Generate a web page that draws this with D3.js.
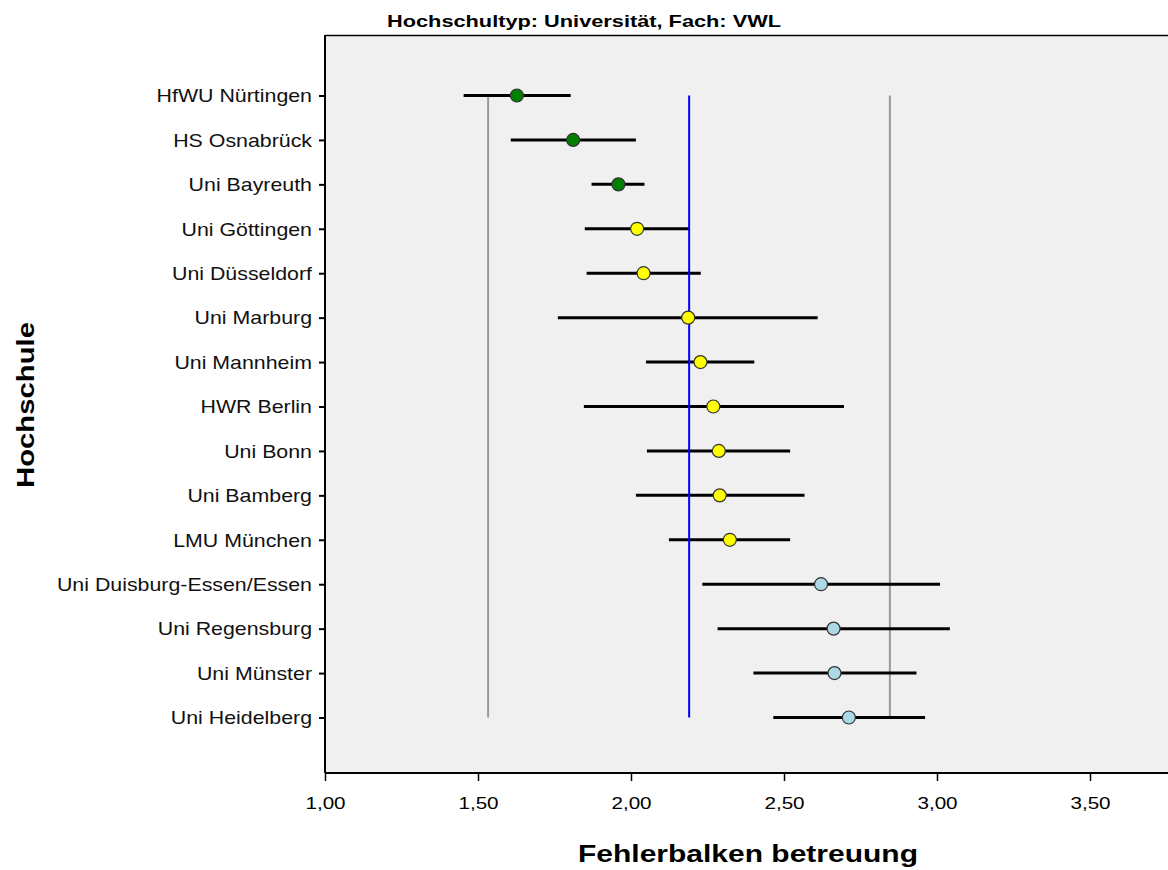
<!DOCTYPE html>
<html><head><meta charset="utf-8">
<script src="https://cdn.jsdelivr.net/npm/d3@7"></script>
<style>
html,body{margin:0;padding:0;background:#fff;}
svg text{font-family:"Liberation Sans",Arial,sans-serif;}
</style></head>
<body>
<svg id="chart" width="1168" height="870"></svg>
<script>
const categories = ["HfWU Nürtingen","HS Osnabrück","Uni Bayreuth","Uni Göttingen","Uni Düsseldorf","Uni Marburg","Uni Mannheim","HWR Berlin","Uni Bonn","Uni Bamberg","LMU München","Uni Duisburg-Essen/Essen","Uni Regensburg","Uni Münster","Uni Heidelberg"];
const means = [1.627,1.811,1.959,2.020,2.041,2.187,2.227,2.269,2.287,2.290,2.323,2.621,2.662,2.665,2.712];
const lower = [1.453,1.607,1.871,1.849,1.855,1.761,2.049,1.846,2.052,2.016,2.124,2.233,2.283,2.400,2.465];
const upper = [1.803,2.016,2.044,2.191,2.228,2.610,2.403,2.696,2.520,2.567,2.520,3.010,3.042,2.933,2.961];
const groups = ["low","low","low","mid","mid","mid","mid","mid","mid","mid","mid","high","high","high","high"];
const groupColors = {low:"#008000", mid:"#ffff00", high:"#add8e6"};
const refMean = 2.19;
const refLower = 1.533;
const refUpper = 2.846;
const xTicks = [1.0,1.5,2.0,2.5,3.0,3.5];
const title = "Hochschultyp: Universität, Fach: VWL";
const xTitle = "Fehlerbalken betreuung";
const yTitle = "Hochschule";

const svg = d3.select("#chart");
const plotL = 325, plotT = 35, plotB = 773, plotR = 1168;

const x = d3.scaleLinear().domain([1.0,3.5]).range([325,1090]);
const y = d3.scalePoint().domain(categories).range([95.5,717.5]);
const loc = d3.formatLocale({decimal:",",thousands:".",grouping:[3],currency:["","€"]});
const fmt = loc.format(".2f");

// background
svg.append("rect").attr("x",plotL).attr("y",plotT).attr("width",plotR-plotL+5).attr("height",plotB-plotT).attr("fill","#f0f0f0");
svg.append("line").attr("x1",plotL).attr("x2",plotR).attr("y1",plotT+0.5).attr("y2",plotT+0.5).attr("stroke","#000").attr("stroke-width",1.5);

const data = categories.map((c,i)=>({c, m:means[i], lo:lower[i], hi:upper[i], g:groups[i]}));

// reference lines
const yTop = y(categories[0]), yBot = y(categories[categories.length-1]);
[[refLower,"#999999"],[refUpper,"#999999"]].forEach(([v,col])=>{
  svg.append("line").attr("x1",x(v)).attr("x2",x(v)).attr("y1",yTop).attr("y2",yBot).attr("stroke",col).attr("stroke-width",2);
});

// error bars
svg.append("g").selectAll("line").data(data).join("line")
  .attr("x1",d=>x(d.lo)).attr("x2",d=>x(d.hi))
  .attr("y1",d=>y(d.c)).attr("y2",d=>y(d.c))
  .attr("stroke","#000").attr("stroke-width",3);

svg.append("line").attr("x1",x(refMean)).attr("x2",x(refMean)).attr("y1",yTop).attr("y2",yBot).attr("stroke","#0000ff").attr("stroke-width",2);

// points
svg.append("g").selectAll("circle").data(data).join("circle")
  .attr("cx",d=>x(d.m)).attr("cy",d=>y(d.c)).attr("r",6.5)
  .attr("fill",d=>groupColors[d.g]).attr("stroke","#333").attr("stroke-width",1.2);

// axes
const xAxis = svg.append("g").attr("transform",`translate(0,${plotB})`)
  .call(d3.axisBottom(x).tickValues(xTicks).tickFormat(fmt).tickSize(8).tickSizeOuter(0));
xAxis.select(".domain").attr("d",`M${plotL},0H${plotR}`).attr("stroke","#000").attr("stroke-width",2);
xAxis.selectAll(".tick line").attr("stroke","#000").attr("stroke-width",1.5);
xAxis.selectAll(".tick text").attr("font-size",16.5).attr("fill","#000").attr("y",0).attr("dy",0)
  .attr("transform",`translate(0,36) scale(1.25,1)`);

const yAxis = svg.append("g").attr("transform",`translate(${plotL},0)`)
  .call(d3.axisLeft(y).tickSize(6).tickSizeOuter(0));
yAxis.select(".domain").attr("d",`M0,${plotT}V${plotB}`).attr("stroke","#000").attr("stroke-width",2);
yAxis.selectAll(".tick line").attr("stroke","#000").attr("stroke-width",2);
yAxis.selectAll(".tick text").attr("font-size",17.5).attr("fill","#111").attr("x",0).attr("dy","0.36em")
  .attr("transform",`translate(-13,0) scale(1.22,1)`);

// titles
svg.append("text").attr("transform",`translate(584,27) scale(1.28,1)`).attr("text-anchor","middle")
  .attr("font-size",17).attr("font-weight","bold").text(title);
svg.append("text").attr("transform",`translate(748,862) scale(1.25,1)`).attr("text-anchor","middle")
  .attr("font-size",24).attr("font-weight","bold").text(xTitle);
svg.append("text").attr("transform",`translate(34,405) rotate(-90) scale(1.22,1)`).attr("text-anchor","middle")
  .attr("font-size",24).attr("font-weight","bold").text(yTitle);
</script>
</body></html>
